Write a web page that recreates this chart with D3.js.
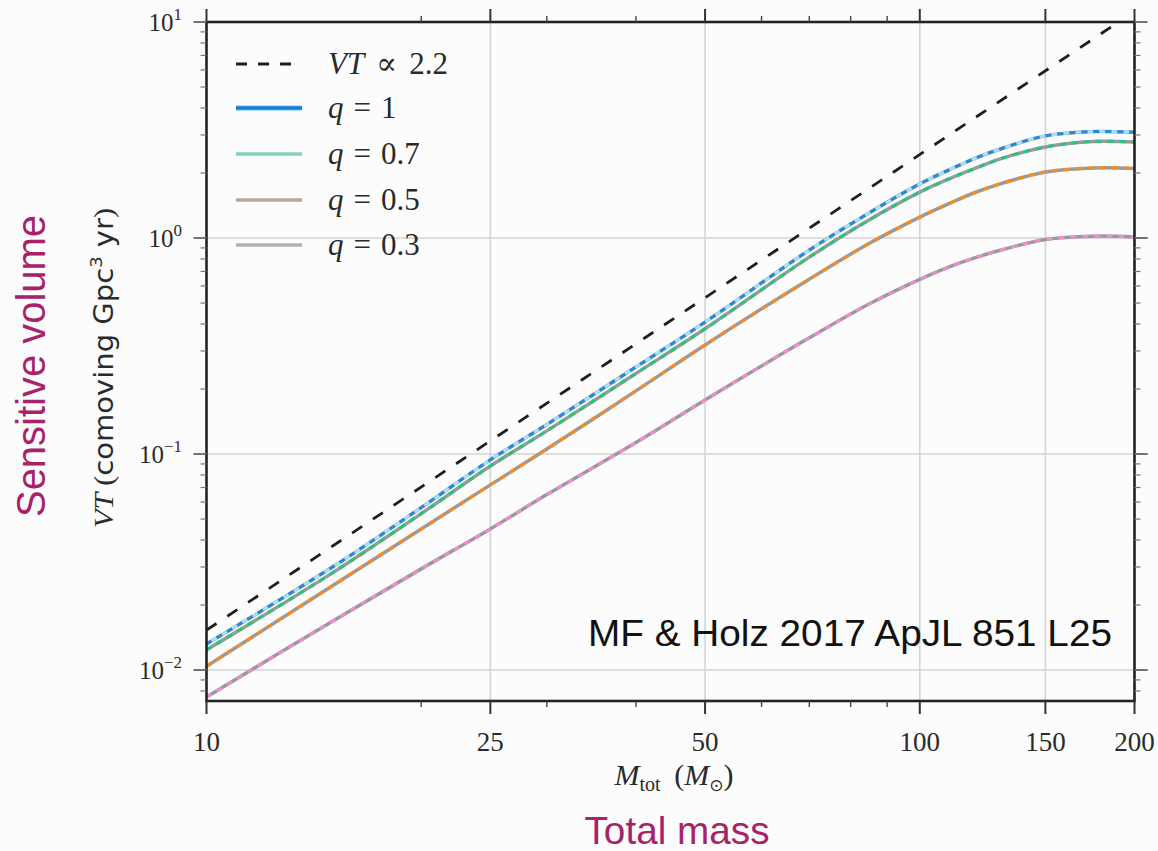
<!DOCTYPE html>
<html>
<head>
<meta charset="utf-8">
<script src="https://cdn.jsdelivr.net/npm/d3@7"></script>
<style>
  html, body { margin: 0; padding: 0; background: #fcfcfc; }
  svg { display: block; }
</style>
</head>
<body>
<svg id="chart" width="1158" height="851"></svg>
<script>
// Total mass grid (solar masses) at which VT was read
const masses = [10, 15, 20, 25, 30, 40, 50, 70, 85, 100, 110, 120, 130, 150, 175, 200];
// Sensitive volume-time, comoving Gpc^3 yr, for each mass ratio q
const vtQ10 = [0.0132, 0.0299, 0.0565, 0.094, 0.137, 0.253, 0.408, 0.879, 1.31, 1.78, 2.07, 2.35, 2.59, 2.97, 3.11, 3.09];
const vtQ07 = [0.0124, 0.0281, 0.053, 0.088, 0.128, 0.236, 0.380, 0.816, 1.215, 1.63, 1.88, 2.11, 2.33, 2.64, 2.80, 2.78];
const vtQ05 = [0.0104, 0.0245, 0.045, 0.072, 0.1054, 0.196, 0.320, 0.645, 0.945, 1.25, 1.445, 1.633, 1.787, 2.02, 2.11, 2.10];
const vtQ03 = [0.0075, 0.0168, 0.0294, 0.045, 0.0649, 0.113, 0.178, 0.345, 0.496, 0.644, 0.735, 0.813, 0.880, 0.985, 1.020, 1.011];
// Power-law reference line VT ∝ M^2.2
const refMasses = [10, 200];
const refVT = [0.0153, 11.2];

const qValues = ["1", "0.7", "0.5", "0.3"];
const xTickValues = [10, 25, 50, 100, 150, 200];
const xMinorTicks = [20, 30, 40, 60, 70, 80, 90];
const yTickExponents = [-2, -1, 0, 1];

const series = [
  { q: qValues[0], vt: vtQ10, dash: "#2a8ad6", legend: "#1b7bd0", halo: "#9fe3ff" },
  { q: qValues[1], vt: vtQ07, dash: "#22c77d", legend: "#80d4b0", halo: null },
  { q: qValues[2], vt: vtQ05, dash: "#ff8a1c", legend: "#bca48f", halo: null },
  { q: qValues[3], vt: vtQ03, dash: "#f28bd0", legend: "#b0b0b0", halo: null }
];

const svg = d3.select("#chart");
const plot = { left: 206.5, right: 1134.5, top: 22, bottom: 701 };

const x = d3.scaleLog().domain([10, 200]).range([plot.left, plot.right]);
const y = d3.scaleLog().domain([0.00719, 10]).range([plot.bottom, plot.top]);

svg.append("defs").append("clipPath").attr("id", "plotClip")
  .append("rect")
  .attr("x", plot.left).attr("y", plot.top)
  .attr("width", plot.right - plot.left).attr("height", plot.bottom - plot.top);

// Grid
const grid = svg.append("g").attr("stroke", "#d4d4d4").attr("stroke-width", 1.6);
xTickValues.filter(v => v > 10 && v < 200).forEach(v => {
  grid.append("line").attr("x1", x(v)).attr("x2", x(v))
    .attr("y1", plot.top).attr("y2", plot.bottom);
});
yTickExponents.filter(e => e < 1).forEach(e => {
  grid.append("line").attr("x1", plot.left).attr("x2", plot.right + 14)
    .attr("y1", y(Math.pow(10, e))).attr("y2", y(Math.pow(10, e)));
});

// Curves
const lineGen = d3.line()
  .x(d => x(d[0])).y(d => y(d[1]))
  .curve(d3.curveCatmullRom.alpha(0.5));

const curves = svg.append("g").attr("clip-path", "url(#plotClip)").attr("fill", "none");

series.forEach(s => {
  const pts = masses.map((m, i) => [m, s.vt[i]]);
  curves.append("path").attr("d", lineGen(pts))
    .attr("stroke", "#9a9a9a").attr("stroke-width", 3.5);
  if (s.halo) {
    curves.append("path").attr("d", lineGen(pts))
      .attr("stroke", s.halo).attr("stroke-width", 3)
      .attr("stroke-dasharray", "6,6").attr("stroke-dashoffset", 6);
  }
  curves.append("path").attr("d", lineGen(pts))
    .attr("stroke", s.dash).attr("stroke-width", 3)
    .attr("stroke-dasharray", "6,6");
});

const refPts = refMasses.map((m, i) => [m, refVT[i]]);
curves.append("path").attr("d", d3.line().x(d => x(d[0])).y(d => y(d[1]))(refPts))
  .attr("stroke", "#1e1e1e").attr("stroke-width", 2.8)
  .attr("stroke-dasharray", "12,13");

// Axes frame and ticks
const axes = svg.append("g");
axes.append("rect")
  .attr("x", plot.left).attr("y", plot.top)
  .attr("width", plot.right - plot.left).attr("height", plot.bottom - plot.top)
  .attr("fill", "none").attr("stroke", "#222").attr("stroke-width", 2.6);

xTickValues.forEach(v => {
  axes.append("line").attr("x1", x(v)).attr("x2", x(v))
    .attr("y1", plot.bottom).attr("y2", plot.bottom + 13)
    .attr("stroke", "#333").attr("stroke-width", 2);
  axes.append("line").attr("x1", x(v)).attr("x2", x(v))
    .attr("y1", plot.top).attr("y2", plot.top - 13)
    .attr("stroke", "#333").attr("stroke-width", 2);
});
xMinorTicks.forEach(v => {
  axes.append("line").attr("x1", x(v)).attr("x2", x(v))
    .attr("y1", plot.bottom).attr("y2", plot.bottom + 6)
    .attr("stroke", "#444").attr("stroke-width", 1.4);
  axes.append("line").attr("x1", x(v)).attr("x2", x(v))
    .attr("y1", plot.top).attr("y2", plot.top - 6)
    .attr("stroke", "#444").attr("stroke-width", 1.4);
});
yTickExponents.forEach(e => {
  const yy = y(Math.pow(10, e));
  axes.append("line").attr("x1", plot.left - 13).attr("x2", plot.left)
    .attr("y1", yy).attr("y2", yy).attr("stroke", "#666").attr("stroke-width", 1.8);
  axes.append("line").attr("x1", plot.right).attr("x2", plot.right + 13)
    .attr("y1", yy).attr("y2", yy).attr("stroke", "#666").attr("stroke-width", 1.8);
});
for (let e = -3; e <= 0; e++) {
  for (let k = 2; k <= 9; k++) {
    const v = k * Math.pow(10, e);
    if (v < y.domain()[0] || v > y.domain()[1]) continue;
    const yy = y(v);
    axes.append("line").attr("x1", plot.left - 6).attr("x2", plot.left)
      .attr("y1", yy).attr("y2", yy).attr("stroke", "#777").attr("stroke-width", 1.2);
    axes.append("line").attr("x1", plot.right).attr("x2", plot.right + 6)
      .attr("y1", yy).attr("y2", yy).attr("stroke", "#777").attr("stroke-width", 1.2);
  }
}

// Tick labels
const serif = "'Liberation Serif', 'DejaVu Serif', serif";
const sans = "'Liberation Sans', Arial, sans-serif";
const wideSans = "'DejaVu Sans', 'Liberation Sans', sans-serif";

svg.append("g").selectAll("text").data(xTickValues).join("text")
  .attr("x", d => x(d)).attr("y", 751)
  .attr("text-anchor", "middle")
  .attr("font-family", serif).attr("font-size", 27).attr("fill", "#2a2a2a")
  .text(d => d3.format("d")(d));

const yLab = svg.append("g");
yTickExponents.forEach(e => {
  const t = yLab.append("text")
    .attr("x", 182).attr("y", y(Math.pow(10, e)) + 9)
    .attr("text-anchor", "end")
    .attr("font-family", serif).attr("font-size", 25).attr("fill", "#2a2a2a");
  t.append("tspan").text("10");
  t.append("tspan").attr("dy", -11).attr("font-size", 17)
    .text(e < 0 ? "\u2212" + Math.abs(e) : String(e));
});

// Axis titles
const xt = svg.append("text")
  .attr("x", 674).attr("y", 785).attr("text-anchor", "middle")
  .attr("font-family", serif).attr("font-size", 30).attr("fill", "#2a2a2a");
xt.append("tspan").attr("font-style", "italic").text("M");
xt.append("tspan").attr("dy", 6).attr("font-size", 20).text("tot");
xt.append("tspan").attr("dy", -6).text("\u2009 (");
xt.append("tspan").attr("font-style", "italic").text("M");
xt.append("tspan").attr("dy", 6).attr("font-size", 17).attr("font-family", "'DejaVu Sans', sans-serif").text("\u2299");
xt.append("tspan").attr("dy", -6).text(")");

const yt = svg.append("text")
  .attr("transform", "translate(113,368) rotate(-90)")
  .attr("text-anchor", "middle")
  .attr("font-size", 26).attr("fill", "#2a2a2a")
  .attr("textLength", 320).attr("lengthAdjust", "spacingAndGlyphs");
yt.append("tspan").attr("font-family", serif).attr("font-style", "italic").attr("font-size", 27).text("VT ");
yt.append("tspan").attr("font-family", serif).attr("font-size", 27).text("(");
yt.append("tspan").attr("font-family", wideSans).text("comoving Gpc");
yt.append("tspan").attr("font-family", wideSans).attr("dy", -11).attr("font-size", 16).text("3");
yt.append("tspan").attr("font-family", wideSans).attr("dy", 11).text(" yr");
yt.append("tspan").attr("font-family", serif).attr("font-size", 27).text(")");

// Presentation labels
svg.append("text")
  .attr("transform", "translate(45,366) rotate(-90)")
  .attr("text-anchor", "middle")
  .attr("font-family", sans).attr("font-size", 40).attr("fill", "#a8226a")
  .attr("textLength", 302).attr("lengthAdjust", "spacingAndGlyphs")
  .text("Sensitive volume");

svg.append("text")
  .attr("x", 677).attr("y", 844).attr("text-anchor", "middle")
  .attr("font-family", sans).attr("font-size", 39).attr("fill", "#a8226a")
  .attr("textLength", 185).attr("lengthAdjust", "spacingAndGlyphs")
  .text("Total mass");

svg.append("text")
  .attr("x", 1112).attr("y", 646).attr("text-anchor", "end")
  .attr("font-family", sans).attr("font-size", 37).attr("fill", "#111")
  .attr("textLength", 524).attr("lengthAdjust", "spacingAndGlyphs")
  .text("MF & Holz 2017 ApJL 851 L25");

// Legend
const legend = svg.append("g");
const legendRows = [64, 108, 154, 200, 245];
legend.append("line")
  .attr("x1", 236).attr("x2", 302).attr("y1", legendRows[0]).attr("y2", legendRows[0])
  .attr("stroke", "#1e1e1e").attr("stroke-width", 3).attr("stroke-dasharray", "11,11");
const lt0 = legend.append("text")
  .attr("x", 328).attr("y", legendRows[0] + 10)
  .attr("font-family", serif).attr("font-size", 31).attr("fill", "#2a2a2a");
lt0.append("tspan").attr("font-style", "italic").text("VT");
lt0.append("tspan").attr("dx", 12).text("\u221d");
lt0.append("tspan").attr("dx", 12).text("2.2");

series.forEach((s, i) => {
  const yy = legendRows[i + 1];
  if (s.halo) {
    legend.append("line").attr("x1", 236).attr("x2", 302).attr("y1", yy).attr("y2", yy)
      .attr("stroke", s.halo).attr("stroke-width", 6);
  }
  legend.append("line").attr("x1", 236).attr("x2", 302).attr("y1", yy).attr("y2", yy)
    .attr("stroke", s.legend).attr("stroke-width", 3.6);
  const t = legend.append("text")
    .attr("x", 328).attr("y", yy + 10)
    .attr("font-family", serif).attr("font-size", 31).attr("fill", "#2a2a2a");
  t.append("tspan").attr("font-style", "italic").text("q");
  t.append("tspan").attr("dx", 10).text("=");
  t.append("tspan").attr("dx", 10).text(s.q);
});
</script>
</body>
</html>
